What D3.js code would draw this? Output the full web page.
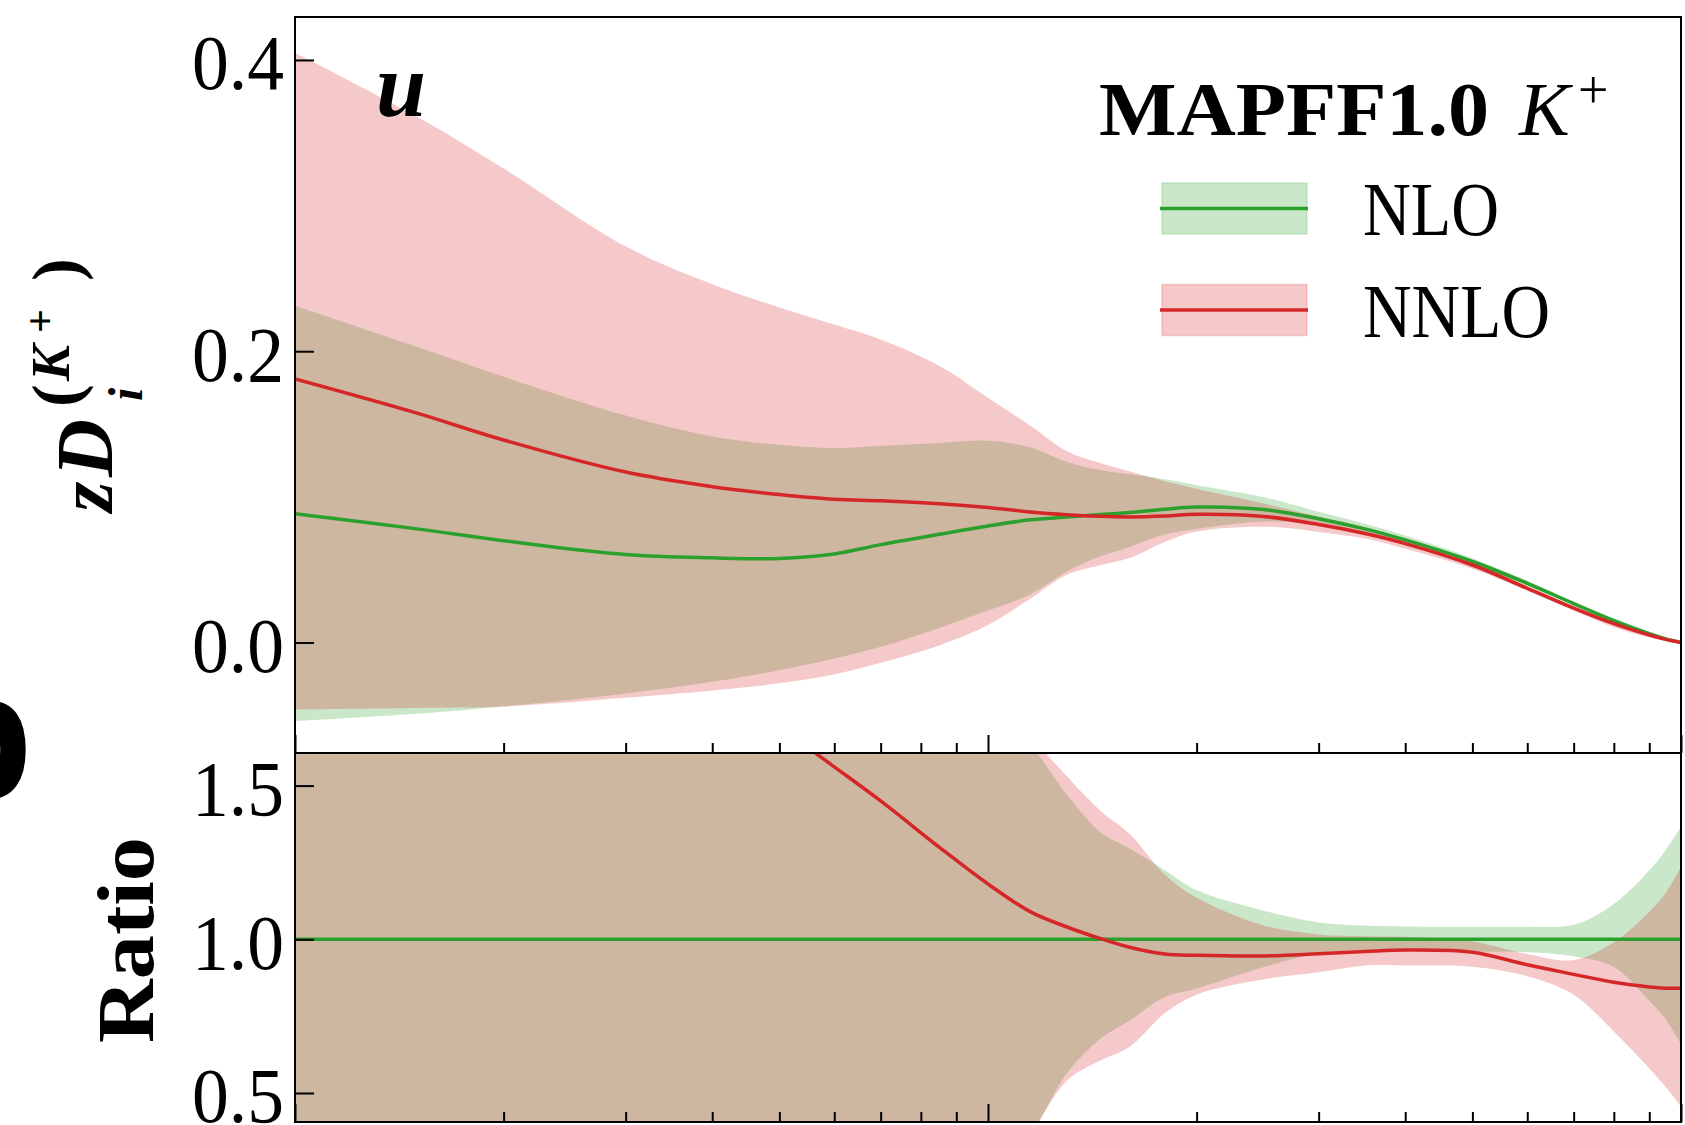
<!DOCTYPE html>
<html lang="en">
<head>
<meta charset="utf-8" />
<title>MAPFF1.0 K+ u fragmentation</title>
<script src="https://cdn.jsdelivr.net/npm/d3@7"></script>
<style>
  body { margin: 0; background: #fff; }
  svg { display: block; }
  text { font-family: "Liberation Serif", serif; fill: #000; }
</style>
</head>
<body>
<div id="chart"></div>
<script>
// momentum fraction z (log axis)
const zGrid = [0.01, 0.015, 0.02, 0.03, 0.04, 0.05, 0.06, 0.07, 0.085, 0.1, 0.115, 0.13, 0.145,
               0.16, 0.18, 0.2, 0.25, 0.3, 0.35, 0.4, 0.5, 0.6, 0.7, 0.8, 0.9, 0.95, 1.0];

// upper panel: z D_u^{K+}
const nloCentral = [0.0884, 0.078, 0.0699, 0.0604, 0.0581, 0.0577, 0.0608, 0.0672, 0.0743, 0.080, 0.0842, 0.0861, 0.0878,
                    0.0893, 0.0915, 0.093, 0.0913, 0.085, 0.078, 0.0704, 0.0556, 0.0406, 0.0267, 0.015, 0.006, 0.0025, 0.0];
const nloUpper   = [0.2312, 0.203, 0.1825, 0.1558, 0.1415, 0.1357, 0.1335, 0.135, 0.137, 0.1385, 0.134, 0.124, 0.1185,
                    0.1156, 0.112, 0.108, 0.0998, 0.0897, 0.0815, 0.0734, 0.0579, 0.0423, 0.028, 0.0167, 0.0074, 0.0032, 0.0];
const nloLower   = [-0.054, -0.049, -0.044, -0.035, -0.027, -0.019, -0.011, -0.003, 0.010, 0.022, 0.033, 0.0487, 0.059,
                    0.0656, 0.0743, 0.078, 0.083, 0.081, 0.0753, 0.068, 0.0534, 0.039, 0.0252, 0.0137, 0.0048, 0.0018, 0.0];
const nnloCentral = [0.181, 0.1575, 0.139, 0.117, 0.107, 0.1016, 0.0983, 0.0973, 0.0953, 0.0927, 0.0896, 0.0877, 0.0866,
                     0.0862, 0.0868, 0.088, 0.0865, 0.081, 0.0748, 0.0679, 0.0532, 0.0372, 0.0236, 0.0129, 0.0051, 0.0021, 0.0];
const nnloUpper  = [0.405, 0.361, 0.3255, 0.272, 0.246, 0.230, 0.2183, 0.208, 0.190, 0.168, 0.149, 0.1313, 0.1232,
                    0.1175, 0.1107, 0.1056, 0.0954, 0.0864, 0.0788, 0.071, 0.0552, 0.0388, 0.0249, 0.0149, 0.0066, 0.0029, 0.0];
const nnloLower  = [-0.046, -0.045, -0.044, -0.038, -0.033, -0.028, -0.022, -0.014, -0.002, 0.012, 0.030, 0.0465, 0.053,
                    0.058, 0.069, 0.0762, 0.0795, 0.0759, 0.0714, 0.0644, 0.0507, 0.0357, 0.0219, 0.0105, 0.0035, 0.0013, 0.0];

// lower panel: ratio to NLO
const ratioNlo       = [1, 1, 1, 1, 1, 1, 1, 1, 1, 1, 1, 1, 1, 1, 1, 1, 1, 1, 1, 1, 1, 1, 1, 1, 1, 1, 1];
const ratioNloUpper  = [2.62, 2.6, 2.61, 2.58, 2.44, 2.34, 2.17, 1.99, 1.84, 1.73, 1.63, 1.47, 1.35,
                        1.295, 1.225, 1.16, 1.093, 1.055, 1.045, 1.042, 1.041, 1.041, 1.047, 1.115, 1.225, 1.29, 1.366];
const ratioNloLower  = [-0.61, -0.63, -0.63, -0.58, -0.46, -0.33, -0.18, -0.04, 0.13, 0.27, 0.37, 0.565, 0.675,
                        0.735, 0.812, 0.84, 0.91, 0.955, 0.965, 0.965, 0.96, 0.958, 0.945, 0.91, 0.80, 0.74, 0.66];
const ratioNnlo      = [2.05, 2.02, 1.99, 1.94, 1.84, 1.69, 1.561, 1.45, 1.30, 1.18, 1.09, 1.04, 1.003,
                        0.974, 0.952, 0.948, 0.946, 0.953, 0.96, 0.965, 0.958, 0.917, 0.886, 0.860, 0.845, 0.841, 0.841];
const ratioNnloUpper = [4.6, 4.6, 4.65, 4.5, 4.2, 4.0, 3.55, 3.1, 2.55, 2.1, 1.68, 1.53, 1.42,
                        1.343, 1.21, 1.135, 1.045, 1.016, 1.01, 1.008, 0.993, 0.952, 0.932, 0.99, 1.09, 1.15, 1.236];
const ratioNnloLower = [-0.52, -0.56, -0.6, -0.63, -0.57, -0.48, -0.36, -0.2, -0.03, 0.15, 0.36, 0.54, 0.605,
                        0.65, 0.76, 0.82, 0.87, 0.893, 0.915, 0.915, 0.911, 0.88, 0.82, 0.70, 0.58, 0.52, 0.455];

const majorZ = [0.01, 0.1, 1];
const minorZ = [0.02, 0.03, 0.04, 0.05, 0.06, 0.07, 0.08, 0.09, 0.2, 0.3, 0.4, 0.5, 0.6, 0.7, 0.8, 0.9];
const topTicks = [0.0, 0.2, 0.4];
const ratioTicks = [0.5, 1.0, 1.5];

const series = [
  {name: 'NLO',  color: '#2ca02c', c: nloCentral,  lo: nloLower,  hi: nloUpper,
   rc: ratioNlo,  rlo: ratioNloLower,  rhi: ratioNloUpper,  textLen: 136},
  {name: 'NNLO', color: '#d62728', c: nnloCentral, lo: nnloLower, hi: nnloUpper,
   rc: ratioNnlo, rlo: ratioNnloLower, rhi: ratioNnloUpper, textLen: 187}
];

const W = 1685, H = 1125;
const box = {left: 295, right: 1681, top: 17, mid: 753, bottom: 1122};

const x = d3.scaleLog().domain([0.01, 1]).range([box.left, box.right]);
const yTop = d3.scaleLinear().domain([-0.0759, 0.4295]).range([box.mid, box.top]);
const yBot = d3.scaleLinear().domain([0.4057, 1.606]).range([box.bottom, box.mid]);

const smooth = d3.curveCatmullRom.alpha(0.5);

const svg = d3.select('#chart').append('svg')
    .attr('width', W)
    .attr('height', H);
svg.append('rect').attr('width', W).attr('height', H).attr('fill', '#fff');

const defs = svg.append('defs');
defs.append('clipPath').attr('id', 'clipTop').append('rect')
    .attr('x', box.left).attr('y', box.top)
    .attr('width', box.right - box.left).attr('height', box.mid - box.top);
defs.append('clipPath').attr('id', 'clipBot').append('rect')
    .attr('x', box.left).attr('y', box.mid)
    .attr('width', box.right - box.left).attr('height', box.bottom - box.mid);

function bandPath(lo, hi, y) {
    return d3.area()
        .x((d, i) => x(zGrid[i]))
        .y0((d, i) => y(lo[i]))
        .y1((d, i) => y(hi[i]))
        .curve(smooth)(zGrid);
}
function linePath(vals, y) {
    return d3.line()
        .x((d, i) => x(zGrid[i]))
        .y((d, i) => y(vals[i]))
        .curve(smooth)(zGrid);
}

const gTop = svg.append('g').attr('clip-path', 'url(#clipTop)');
const gBot = svg.append('g').attr('clip-path', 'url(#clipBot)');

series.forEach(s => {
    gTop.append('path').attr('d', bandPath(s.lo, s.hi, yTop))
        .attr('fill', s.color).attr('fill-opacity', 0.25);
    gBot.append('path').attr('d', bandPath(s.rlo, s.rhi, yBot))
        .attr('fill', s.color).attr('fill-opacity', 0.25);
});
series.forEach(s => {
    gTop.append('path').attr('d', linePath(s.c, yTop))
        .attr('fill', 'none').attr('stroke', s.color).attr('stroke-width', 3.5);
    gBot.append('path').attr('d', linePath(s.rc, yBot))
        .attr('fill', 'none').attr('stroke', s.color).attr('stroke-width', 3.5);
});

// x ticks (inward, on the bottom spine of each panel)
[box.mid, box.bottom].forEach(yPos => {
    [[majorZ, -18], [minorZ, -10]].forEach(([vals, size]) => {
        const ax = svg.append('g')
            .attr('transform', 'translate(0,' + yPos + ')')
            .call(d3.axisBottom(x).tickValues(vals).tickSize(size).tickSizeOuter(0).tickFormat(''));
        ax.select('.domain').remove();
        ax.selectAll('.tick line').attr('stroke', '#000').attr('stroke-width', 2);
    });
});

// y axes
function yAxis(scale, vals) {
    const ax = svg.append('g')
        .attr('transform', 'translate(' + box.left + ',0)')
        .call(d3.axisLeft(scale).tickValues(vals).tickSize(-19).tickPadding(11)
            .tickSizeOuter(0).tickFormat(d3.format('.1f')));
    ax.select('.domain').remove();
    ax.selectAll('.tick line').attr('stroke', '#000').attr('stroke-width', 2);
    ax.selectAll('.tick text')
        .attr('font-family', '"Liberation Serif", serif')
        .attr('font-size', 78)
        .attr('dy', '0.37em')
        .attr('textLength', 92)
        .attr('lengthAdjust', 'spacingAndGlyphs')
        .attr('fill', '#000');
}
yAxis(yTop, topTicks);
yAxis(yBot, ratioTicks);

// frames
svg.append('rect')
    .attr('x', box.left).attr('y', box.top)
    .attr('width', box.right - box.left).attr('height', box.mid - box.top)
    .attr('fill', 'none').attr('stroke', '#000').attr('stroke-width', 2);
svg.append('rect')
    .attr('x', box.left).attr('y', box.mid)
    .attr('width', box.right - box.left).attr('height', box.bottom - box.mid)
    .attr('fill', 'none').attr('stroke', '#000').attr('stroke-width', 2);

// flavour label
svg.append('text')
    .attr('x', 376).attr('y', 116)
    .attr('font-size', 90).attr('font-weight', 'bold').attr('font-style', 'italic')
    .text('u');

// y label, upper panel: z D_i^{(K^+)}
const yl = svg.append('g').attr('transform', 'translate(112,515) rotate(-90)');
const ylParts = [
    {t: 'z', x: 3,   y: 0,   size: 78, italic: true},
    {t: 'D', x: 38,  y: 0,   size: 80, italic: true},
    {t: 'i', x: 114, y: 30,  size: 48, italic: true},
    {t: '(', x: 108, y: -33, size: 68, italic: false},
    {t: 'K', x: 134, y: -43, size: 54, italic: true},
    {t: '+', x: 182, y: -58, size: 42, italic: false},
    {t: ')', x: 234, y: -33, size: 68, italic: false}
];
ylParts.forEach(p => {
    yl.append('text')
        .attr('x', p.x).attr('y', p.y)
        .attr('font-size', p.size).attr('font-weight', 'bold')
        .attr('font-style', p.italic ? 'italic' : 'normal')
        .text(p.t);
});

// y label, ratio panel
svg.append('text')
    .attr('transform', 'translate(153,1043) rotate(-90)')
    .attr('font-size', 80).attr('font-weight', 'bold')
    .attr('textLength', 206).attr('lengthAdjust', 'spacingAndGlyphs')
    .text('Ratio');

// cut-off glyph of the neighbouring panel label
svg.append('text')
    .attr('x', 33).attr('y', 797)
    .attr('text-anchor', 'end')
    .style('font-family', '"Liberation Sans", sans-serif')
    .attr('font-size', 178).attr('font-weight', 'bold')
    .text('b');

// legend
svg.append('text')
    .attr('x', 1099).attr('y', 135)
    .attr('font-size', 76).attr('font-weight', 'bold')
    .attr('textLength', 390).attr('lengthAdjust', 'spacingAndGlyphs')
    .text('MAPFF1.0');
svg.append('text')
    .attr('x', 1519).attr('y', 135)
    .attr('font-size', 76).attr('font-style', 'italic')
    .text('K');
svg.append('text')
    .attr('x', 1578).attr('y', 108)
    .attr('font-size', 54)
    .text('+');

const legend = svg.selectAll('.legend')
    .data(series)
    .enter().append('g')
    .attr('class', 'legend')
    .attr('transform', (d, i) => 'translate(0,' + (i * 101.5) + ')');
legend.append('rect')
    .attr('x', 1162).attr('y', 183).attr('width', 145).attr('height', 51)
    .attr('fill', d => d.color).attr('fill-opacity', 0.25)
    .attr('stroke', d => d.color).attr('stroke-opacity', 0.2).attr('stroke-width', 1.5);
legend.append('line')
    .attr('x1', 1160).attr('x2', 1308).attr('y1', 208.5).attr('y2', 208.5)
    .attr('stroke', d => d.color).attr('stroke-width', 3.5);
legend.append('text')
    .attr('x', 1363).attr('y', 235)
    .attr('font-size', 76)
    .attr('textLength', d => d.textLen).attr('lengthAdjust', 'spacingAndGlyphs')
    .text(d => d.name);
</script>
</body>
</html>
